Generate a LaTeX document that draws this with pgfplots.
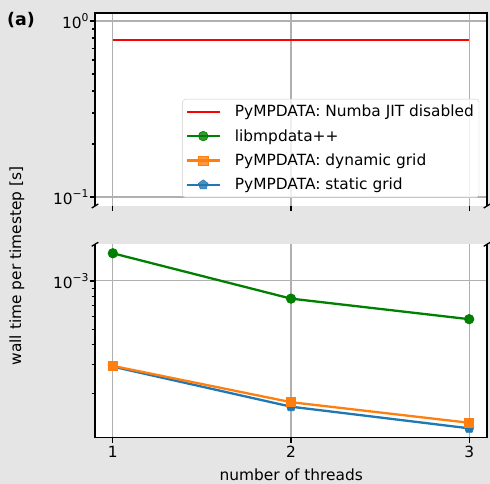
\documentclass[border=0pt]{standalone}
\usepackage{fontspec}
\setmainfont{DejaVu Sans}
\usepackage{pgfplots}
\pgfplotsset{compat=1.18}
\definecolor{bg}{HTML}{E5E5E5}
\definecolor{gridc}{HTML}{B0B0B0}
\definecolor{cgreen}{HTML}{008000}
\definecolor{corange}{HTML}{FF7F0E}
\definecolor{cblue}{HTML}{1F77B4}
\newcommand\fs{\fontsize{15.4}{18}\selectfont}
\newcommand\tenpow[1]{10\raisebox{0.42em}{\fontsize{10.8}{12}\selectfont #1}}
\tikzset{dl/.style={line width=2.3pt, mark options={solid, line width=0.6pt}}}
\pgfplotsset{
  myax/.style={
    scale only axis, width=392pt, height=193pt,
    xmin=0.9, xmax=3.1,
    xtick={1,2,3},
    tick align=outside,
    major tick length=5.4pt,
    tick style={black, line width=1.2pt},
    grid=major,
    major grid style={gridc, line width=1.1pt},
    axis line style={draw=none},
    axis background/.style={fill=white},
    tick label style={font=\fs},
    yticklabel style={xshift=2.5pt},
    xtick pos=bottom, ytick pos=left,
    extra y tick labels={},
    extra y tick style={major tick length=3.3pt, grid=none, tick style={black, line width=1pt}},
    clip=false,
  },
}
\begin{document}
\begin{tikzpicture}
\fill[bg] (0,0) rectangle (490pt,484pt);
\useasboundingbox (0,0) rectangle (490pt,484pt);
% top panel
\begin{semilogyaxis}[myax, at={(95pt,278pt)}, anchor=south west,
  ymin=0.0889, ymax=1.11,
  ytick={0.1,1}, yticklabels={\tenpow{−1},\tenpow{0}},
  extra y ticks={0.2,0.3,0.4,0.5,0.6,0.7,0.8,0.9},
  xticklabels={},
  legend cell align=left,
  legend style={at={(0.980,0.043)}, anchor=south east, font=\fs,
    draw=black!20, fill=white, fill opacity=0.8, text opacity=1,
    rounded corners=3pt, row sep=7.2pt, inner ysep=4pt,
    /tikz/every odd column/.append style={column sep=12pt}},
  legend image code/.code={\draw[mark repeat=2,mark phase=2] plot coordinates {(0pt,0pt) (16.5pt,0pt) (33pt,0pt)};},
]
\addplot[red, line width=2.3pt] coordinates {(1,0.78) (3,0.78)};
\addlegendentry{PyMPDATA: Numba JIT disabled}
\addlegendimage{cgreen, dl, mark=*, mark size=4.8pt}
\addlegendentry{libmpdata++}
\addlegendimage{corange, dl, mark=square*, mark size=4.6pt}
\addlegendentry{PyMPDATA: dynamic grid}
\addlegendimage{cblue, dl, mark=pentagon*, mark size=5pt}
\addlegendentry{PyMPDATA: static grid}
\end{semilogyaxis}
% bottom panel
\begin{semilogyaxis}[myax, at={(95pt,46.7pt)}, anchor=south west,
  ymin=1.064e-4, ymax=1.69e-3,
  ytick={1e-3}, yticklabels={\tenpow{−3}},
  extra y ticks={2e-4,3e-4,4e-4,5e-4,6e-4,7e-4,8e-4,9e-4},
  xticklabels={1,2,3},
]
\addplot[cblue, dl, mark=pentagon*, mark size=5pt] coordinates {(1,2.93e-4) (2,1.65e-4) (3,1.21e-4)};
\addplot[corange, dl, mark=square*, mark size=4.6pt] coordinates {(1,2.96e-4) (2,1.76e-4) (3,1.31e-4)};
\addplot[cgreen, dl, mark=*, mark size=4.8pt] coordinates {(1,1.486e-3) (2,7.76e-4) (3,5.78e-4)};
\end{semilogyaxis}
% spines
\draw[line width=1.3pt] (95pt,278pt) -- (95pt,471pt) -- (487pt,471pt) -- (487pt,278pt);
\draw[line width=1.3pt] (95pt,239.7pt) -- (95pt,46.7pt) -- (487pt,46.7pt) -- (487pt,239.7pt);
% break marks
\foreach \p in {(95pt,278pt),(487pt,278pt),(95pt,239.7pt),(487pt,239.7pt)}
  \draw[line width=1.3pt] \p ++(-3.3pt,-2pt) -- ++(6.6pt,4pt);
% labels
\node[font=\fs, rotate=90] at (17pt,218pt) {wall time per timestep [s]};
\node[font=\fs, anchor=base] at (291.3pt,3.5pt) {number of threads};
\node[font=\fontsize{17.4}{20}\selectfont\bfseries] at (21pt,464pt) {(a)};
\end{tikzpicture}
\end{document}
